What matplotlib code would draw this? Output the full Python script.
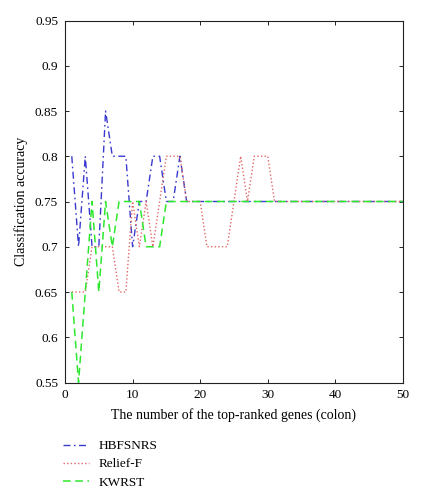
import matplotlib
matplotlib.use("Agg")
import matplotlib.pyplot as plt
import numpy as np

n_genes = list(range(1, 51))

hbfsnrs_head = [0.80, 0.70, 0.80, 0.70, 0.70, 0.85, 0.80, 0.80, 0.80, 0.70,
                0.75, 0.75, 0.80, 0.80, 0.75, 0.75, 0.80, 0.75]
relief_head = [0.65, 0.65, 0.65, 0.70, 0.70, 0.70, 0.70, 0.65, 0.65, 0.75,
               0.70, 0.75, 0.70, 0.75, 0.80, 0.80, 0.80, 0.75, 0.75, 0.75,
               0.70, 0.70, 0.70, 0.70, 0.75, 0.80, 0.75, 0.80, 0.80, 0.80,
               0.75]
kwrst_head = [0.65, 0.55, 0.65, 0.75, 0.65, 0.75, 0.70, 0.75, 0.75, 0.75,
              0.75, 0.70, 0.70, 0.70, 0.75]
tail_value = 0.75

hbfsnrs = hbfsnrs_head + [tail_value] * (50 - len(hbfsnrs_head))
relief = relief_head + [tail_value] * (50 - len(relief_head))
kwrst = kwrst_head + [tail_value] * (50 - len(kwrst_head))

xticks = [0, 10, 20, 30, 40, 50]
yticks = [0.55, 0.6, 0.65, 0.7, 0.75, 0.8, 0.85, 0.9, 0.95]
ytick_labels = ["0.55", "0.6", "0.65", "0.7", "0.75", "0.8", "0.85", "0.9", "0.95"]

plt.rcParams['font.family'] = ['Liberation Serif', 'DejaVu Serif']
plt.rcParams['font.size'] = 9.5

fig = plt.figure(figsize=(4.25, 5.0), dpi=100)
ax = fig.add_axes([0.153, 0.235, 0.795, 0.724])

l1, = ax.plot(n_genes, hbfsnrs, color='#3a3ad0', linestyle=(0, (5, 2.5, 1.2, 2.5)), linewidth=1.0, label='HBFSNRS')
l2, = ax.plot(n_genes, relief, color='#e06868', linestyle=(0, (1, 1.6)), linewidth=1.0, label='Relief-F')
l3, = ax.plot(n_genes, kwrst, color='#2ee82e', linestyle=(0, (5, 3)), linewidth=1.1, label='KWRST')

ax.set_xlim(0, 50)
ax.set_ylim(0.55, 0.95)
ax.set_xticks(xticks)
ax.set_yticks(yticks)
ax.set_yticklabels(ytick_labels)
ax.tick_params(direction='in', length=3, width=0.6, top=True, right=True, pad=5, labelsize=9.5)
for s in ax.spines.values():
    s.set_linewidth(0.8)
    s.set_color('#222222')

ax.set_xlabel('The number of the top-ranked genes (colon)', fontsize=10, labelpad=5)
ax.set_ylabel('Classification accuracy', fontsize=10, labelpad=5)

fig.legend(handles=[l1, l2, l3], loc='upper left', bbox_to_anchor=(0.148, 0.12),
           frameon=False, fontsize=9.5, handlelength=2.0, handletextpad=0.7,
           labelspacing=0.45, borderpad=0, borderaxespad=0)

fig.savefig('out.png', dpi=100)
